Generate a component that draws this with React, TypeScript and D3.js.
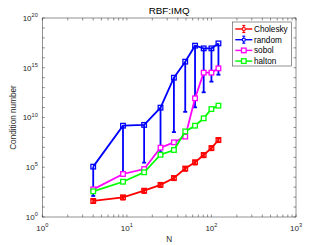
import React from "react";
import * as d3 from "d3";

// N values (square numbers)
const nValues = [4, 9, 16, 25, 36, 49, 64, 81, 100, 121];

// condition numbers per method
const cholesky = [41, 95, 440, 1.7e3, 8.3e3, 7.4e4, 3.2e5, 1.7e6, 8.5e6, 5.5e7];
const choleskyLower = [25, 57, 260, 1.0e3, 5.0e3, 4.4e4, 1.9e5, 1.0e6, 5.1e6, 3.3e7];
const choleskyUpper = [57, 133, 620, 2.4e3, 1.16e4, 1.04e5, 4.5e5, 2.4e6, 1.19e7, 7.7e7];
const random = [1.15e5, 1.5e9, 1.8e9, 9.8e10, 1.0e14, 4.1e15, 1.66e17, 8.9e16, 8.9e16, 2.8e17];
const randomLower = [1.3e2, 2.0e4, 2.9e5, 3.2e6, 3.4e8, 3.7e10, 1.05e11, 3.4e12, 4.0e13, 2.0e14];
const sobol = [600, 2.1e4, 6.6e4, 9.3e6, 3.2e7, 1.2e8, 8.5e11, 3.2e14, 3.2e14, 8.7e14];
const halton = [380, 3.5e3, 3.1e4, 1.8e6, 5.4e6, 4.0e8, 1.5e9, 8.3e9, 7.1e10, 1.55e11];

const xMajor = [0, 1, 2, 3];
const yMajor = [0, 5, 10, 15, 20];

const W = 327, H = 245;
const left = 42.3, right = 296, top = 18, bottom = 217;
const font = "'Liberation Sans', Arial, Helvetica, sans-serif";
const axisColor = "#262626";

const x = d3.scaleLog().domain([1, 1000]).range([left, right]);
const y = d3.scaleLog().domain([1, 1e20]).range([bottom, top]);

const series = [
  { name: "Cholesky", color: "#ff0000", values: cholesky, lower: choleskyLower, upper: choleskyUpper },
  { name: "random", color: "#0000ff", values: random, lower: randomLower, upper: random },
  { name: "sobol", color: "#ff00ff", values: sobol, lower: null, upper: null },
  { name: "halton", color: "#00ff00", values: halton, lower: null, upper: null },
];

const LW = 1.8;
const MS = 4.6;
const TL = 2.5;

export default function App() {
  const line = d3.line<number>().x((d, i) => x(nValues[i])).y(d => y(d));

  const xMinor: number[] = [];
  for (let e = 0; e < 3; e++) for (let k = 2; k <= 9; k++) xMinor.push(k * 10 ** e);
  const yMinor: number[] = d3.range(1, 20).filter(e => e % 5 !== 0);

  return (
    <svg width={W} height={H} style={{ position: "absolute", left: 0, top: 0, background: "#fff" }}>
      <rect x={0} y={0} width={W} height={H} fill="#fff" />
      {/* ticks */}
      <g stroke={axisColor} strokeWidth={0.5}>
        {xMajor.map(e => 10 ** e).concat(xMinor).map((v, i) => (
          <g key={"xt" + i}>
            <line x1={x(v)} x2={x(v)} y1={bottom} y2={bottom - TL} />
            <line x1={x(v)} x2={x(v)} y1={top} y2={top + TL} />
          </g>
        ))}
        {yMajor.concat(yMinor).map((e, i) => (
          <g key={"yt" + i}>
            <line x1={left} x2={left + TL} y1={y(10 ** e)} y2={y(10 ** e)} />
            <line x1={right} x2={right - TL} y1={y(10 ** e)} y2={y(10 ** e)} />
          </g>
        ))}
        <rect x={left} y={top} width={right - left} height={bottom - top} fill="none" />
      </g>

      {/* tick labels */}
      <g fontFamily={font} fill={axisColor} fontSize={8}>
        {xMajor.map(e => (
          <text key={"xl" + e} x={x(10 ** e)} y={230.7} textAnchor="middle">
            10<tspan fontSize={5.6} dy={-3.8}>{e}</tspan>
          </text>
        ))}
        {yMajor.map(e => (
          <text key={"yl" + e} x={37.8} y={y(10 ** e) + 2.8} textAnchor="end">
            10<tspan fontSize={5.6} dy={-3.8}>{e}</tspan>
          </text>
        ))}
      </g>

      {/* axis labels and title */}
      <text x={(left + right) / 2} y={241.7} textAnchor="middle" fontFamily={font} fontSize={8.2} fill={axisColor}>N</text>
      <text transform={`translate(16.3,${(top + bottom) / 2}) rotate(-90)`} textAnchor="middle" fontFamily={font} fontSize={8.2} fill={axisColor}>Condition number</text>
      <text x={(left + right) / 2} y={14.3} textAnchor="middle" fontFamily={font} fontSize={9.8} fill="#000">RBF:IMQ</text>

      {/* data */}
      {series.map(s => (
        <g key={s.name}>
          <path d={line(s.values) || ""} fill="none" stroke={s.color} strokeWidth={LW} />
          {s.lower && s.values.map((v, i) => {
            const cx = x(nValues[i]);
            const lo = y(s.lower![i]);
            const hi = y(s.upper![i]);
            return (
              <g key={"e" + i} stroke={s.color} strokeWidth={LW}>
                <line x1={cx} x2={cx} y1={lo} y2={hi} />
                <line x1={cx - 2} x2={cx + 2} y1={lo} y2={lo} />
                {hi < y(v) - 0.5 && <line x1={cx - 2} x2={cx + 2} y1={hi} y2={hi} />}
              </g>
            );
          })}
          {s.values.map((v, i) => (
            <rect key={"m" + i} x={x(nValues[i]) - MS / 2} y={y(v) - MS / 2} width={MS} height={MS}
              fill="#fff" fillOpacity={s.lower ? 0 : 1} stroke={s.color} strokeWidth={1.3} />
          ))}
        </g>
      ))}

      {/* legend */}
      <g>
        <rect x={232.5} y={22} width={59} height={44} fill="#fff" stroke={axisColor} strokeWidth={0.5} />
        {series.map((s, i) => {
          const ly = 29 + i * 10.7;
          const cx = 243.8;
          return (
            <g key={"lg" + s.name}>
              <line x1={235.3} x2={252.3} y1={ly} y2={ly} stroke={s.color} strokeWidth={LW * 0.8} />
              {s.lower ? (
                <g stroke={s.color} strokeWidth={1.2}>
                  <line x1={cx} x2={cx} y1={ly - 3.5} y2={ly + 3.5} />
                  <line x1={cx - 1.5} x2={cx + 1.5} y1={ly - 3.5} y2={ly - 3.5} />
                  <line x1={cx - 1.5} x2={cx + 1.5} y1={ly + 3.5} y2={ly + 3.5} />
                  <rect x={cx - 1.3} y={ly - 1.3} width={2.6} height={2.6} fill="#fff" strokeWidth={0.9} />
                </g>
              ) : (
                <rect x={cx - MS / 2} y={ly - MS / 2} width={MS} height={MS} fill="#fff" stroke={s.color} strokeWidth={1.3} />
              )}
              <text x={254} y={ly + 2.9} fontFamily={font} fontSize={8.2} fill="#000">{s.name}</text>
            </g>
          );
        })}
      </g>
    </svg>
  );
}
